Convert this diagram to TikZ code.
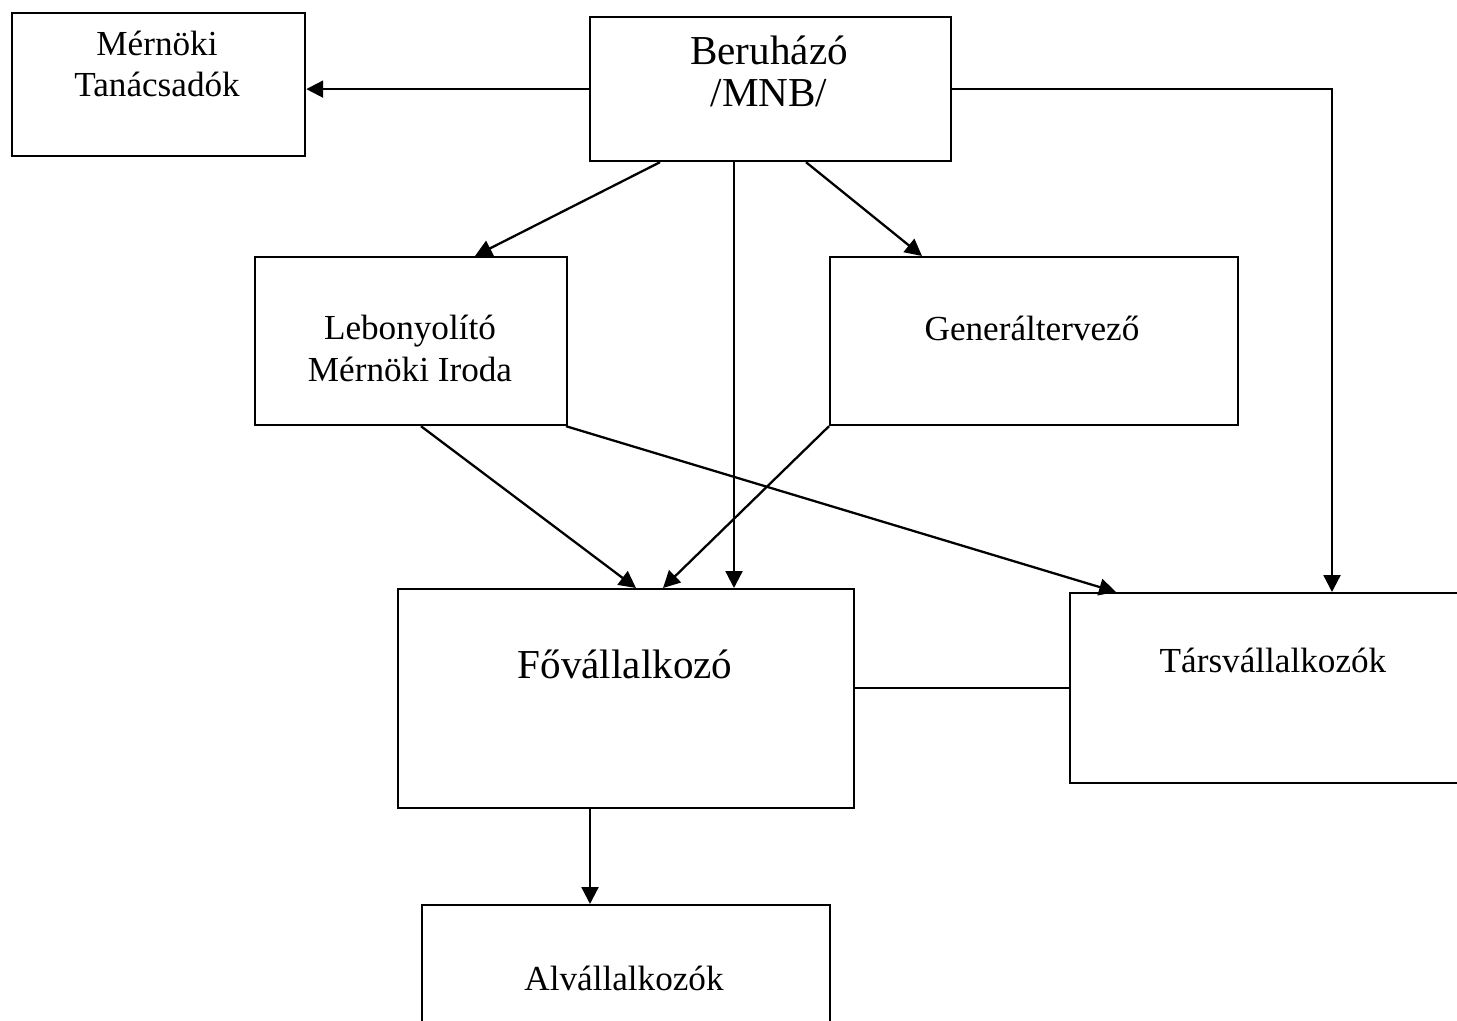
\documentclass[tikz,border=0pt]{standalone}
\usepackage{fontspec}
\setmainfont{Liberation Serif}
\usetikzlibrary{arrows.meta,positioning}

\begin{document}
\begin{tikzpicture}[x=0.01cm,y=-0.01cm,->,>={Triangle[length=4.8pt,width=4.8pt]},
        line width=0.65pt,
        box/.style={draw,rectangle,inner sep=0pt,anchor=north west,line width=0.6pt},
        txt/.style={align=center,inner sep=0pt,anchor=base,
          font=\fontsize{10}{11.9}\selectfont},
        bigtxt/.style={txt,font=\fontsize{11.7}{11.9}\selectfont}]

  \useasboundingbox (0,0) rectangle (1457,1021);
  \clip (0,0) rectangle (1457,1021);

  % boxes
  \node[box,minimum width=2.93cm,minimum height=1.43cm] (mt)   at (11,12)   {};
  \node[box,minimum width=3.61cm,minimum height=1.44cm] (ber)  at (589,16)  {};
  \node[box,minimum width=3.12cm,minimum height=1.68cm] (leb)  at (254,256) {};
  \node[box,minimum width=4.08cm,minimum height=1.68cm] (gen)  at (829,256) {};
  \node[box,minimum width=4.56cm,minimum height=2.19cm] (fo)   at (397,588) {};
  \node[box,minimum width=4.20cm,minimum height=1.90cm] (tars) at (1069,592) {};
  \node[box,minimum width=4.08cm,minimum height=1.50cm] (alv)  at (421,904) {};

  % labels (base = last line)
  \node[txt]    (mtT)   at (157,97)  {Mérnöki\\Tanácsadók};
  \node[bigtxt] (berT)  at (769,106) {Beruházó\\/MNB/};
  \node[txt]    (lebT)  at (410,381) {Lebonyolító\\Mérnöki Iroda};
  \node[txt]    (genT)  at (1032,340) {Generáltervező};
  \node[bigtxt] (foT)   at (625,678) {Fővállalkozó};
  \node[txt]    (tarsT) at (1273,672) {Társvállalkozók};
  \node[txt]    (alvT)  at (624,990) {Alvállalkozók};

  % connectors
  \draw (ber.west) -- (mt.east |- ber.west);
  \draw (660,0 |- ber.south) -- (475,0 |- leb.north);
  \draw (734,0 |- ber.south) -- (734,0 |- fo.north);
  \draw (806,0 |- ber.south) -- (922,0 |- gen.north);
  \draw (ber.east) -| (1332,0 |- tars.north);
  \draw (421,0 |- leb.south) -- (636,0 |- fo.north);
  \draw (566,0 |- leb.south) -- (1116,0 |- tars.north);
  \draw (829,0 |- gen.south) -- (663,0 |- fo.north);
  \draw[-] (fo.east |- tars.west) -- (tars.west);
  \draw (590,0 |- fo.south) -- (590,0 |- alv.north);

\end{tikzpicture}
\end{document}
